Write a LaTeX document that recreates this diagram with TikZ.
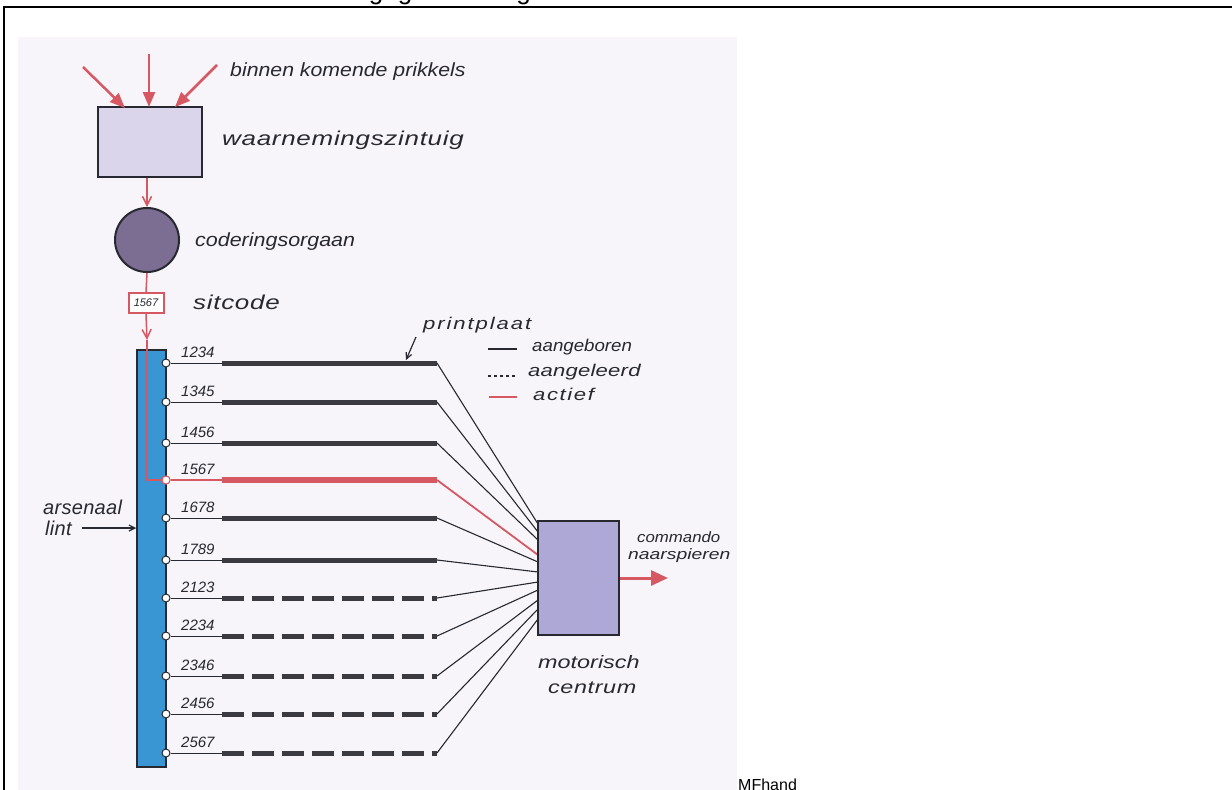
\documentclass[tikz,border=0pt]{standalone}
\usepackage{fontspec}
\setmainfont{Liberation Sans}
\newfontfamily\handfont{Liberation Sans}
\usetikzlibrary{arrows.meta}
\definecolor{scan}{RGB}{247,245,249}
\definecolor{pen}{RGB}{40,40,48}
\definecolor{redink}{RGB}{214,88,98}
\definecolor{boxA}{RGB}{218,213,234}
\definecolor{circ}{RGB}{124,110,146}
\definecolor{boxB}{RGB}{174,168,214}
\definecolor{lintc}{RGB}{58,150,210}
\definecolor{barc}{RGB}{58,58,64}
\makeatletter
\newcommand\lspace[2]{\def\lsp@gap{\hspace{#1}}\lsp@go#2\relax}
\def\lsp@go#1{\ifx#1\relax\else#1\lsp@gap\expandafter\lsp@go\fi}
\makeatother
% size, stretch, gap, text
\newcommand{\hwr}[4]{{\handfont\itshape\fontsize{#1}{#1}\selectfont\addfontfeature{FakeStretch=#2}\lspace{#3pt}{#4}}}
\tikzset{
  lbl/.style={anchor=west, inner sep=0pt, text=pen},
  inarrow/.style={redink, line width=2.5pt, -{Triangle[length=15pt,width=12pt]}},
  thinred/.style={redink, line width=1.5pt},
  redbarb/.style={thinred, -{Straight Barb[length=9pt,width=9pt]}},
  bar/.style={barc, line width=5pt},
  dbar/.style={barc, line width=5pt, dash pattern=on 22pt off 8pt},
  feed/.style={pen, line width=1.1pt},
  stub/.style={pen, line width=1pt},
  pin/.style={circle, draw=pen, fill=white, line width=1pt, minimum size=8pt, inner sep=0pt},
  rowlbl/.style={anchor=west, inner sep=0pt, text=pen},
  ink/.style={draw=pen, line width=2.5pt, inner sep=0pt}
}
\begin{document}
\begin{tikzpicture}[x=1pt,y=-1pt]
\useasboundingbox (0,0) rectangle (1232,790);
\fill[white] (0,0) rectangle (1232,790);
\fill[scan] (18,37) rectangle (737,790);
% clipped title and frame
\node[anchor=base west, inner sep=0pt, font=\fontsize{26}{26}\selectfont] (title) at (35,-1) {Het model schematisch weergegeven in figuur};
\draw[black, line width=2pt] (4,800) -- (4,7) -- (1240,7);
\node[anchor=base west, inner sep=0pt, font=\fontsize{16}{16}\selectfont] (mf) at (738,790) {MFhand};

% sensor
\node[ink, fill=boxA, minimum width=104pt, minimum height=70pt] (sensor) at (150,142) {};
\coordinate (i1) at (83,67);
\coordinate (i2) at (149,54);
\coordinate (i3) at (217,65);
\coordinate (t1) at (125,108);
\coordinate (t2) at (149,107);
\coordinate (t3) at (175,107);
\draw[inarrow] (i1) -- (t1);
\draw[inarrow] (i2) -- (t2);
\draw[inarrow] (i3) -- (t3);
\node[lbl] (prik) at (230,72) {\hwr{19}{1.12}{0}{binnen~komende~prikkels}};
\node[lbl] (waar) at (222,140) {\hwr{20}{1.3}{0.7}{waarnemingszintuig}};

% coder
\node[circle, draw=pen, line width=2pt, fill=circ, minimum size=64pt, inner sep=0pt] (coder) at (147,240) {};
\draw[redbarb] (sensor.south -| coder.north) -- (coder.north);
\node[lbl] (cod) at (195,242) {\hwr{19}{1.13}{0}{coderingsorgaan}};

% sitcode
\node[draw=redink, line width=2pt, fill=white, minimum width=35pt, minimum height=20pt, inner sep=0pt, text=pen] (sit) at (146,303) {\hwr{11}{1}{0}{1567}};
\draw[thinred] (coder.south) -- (sit.north);
\node[lbl] (sitl) at (193,302) {\hwr{20}{1.3}{0.7}{sitcode}};

% arsenaal lint
\node[draw=pen, line width=1.5pt, fill=lintc, minimum width=29pt, minimum height=417pt, inner sep=0pt] (lint) at (151.5,558.5) {};
\node[lbl] (ars) at (43,507) {\hwr{20}{1}{0.3}{arsenaal}};
\node[lbl] (lintl) at (45,528) {\hwr{20}{1}{0.3}{lint}};
\coordinate (la) at (82,528);
\draw[pen, line width=1.2pt, -{Straight Barb[length=6pt,width=6pt]}] (la) -- (lint.west |- la);

% rows: solid
\foreach \i/\y/\t/\ty in {1/363/1234/524, 2/402/1345/532, 3/443/1456/540, 5/518/1678/562, 6/560/1789/572}{
  \node[pin] (p\i) at (166,\y) {};
  \coordinate (s\i) at (222,\y);
  \coordinate (e\i) at (437,\y);
  \coordinate (m\i) at (538,\ty);
  \draw[stub] (p\i) -- (s\i);
  \draw[bar] (s\i) -- (e\i);
  \draw[feed] (e\i) -- (m\i);
  \node[rowlbl] (l\i) at (181,\y-11) {\hwr{15}{1}{0}{\t}};
}
% rows: dashed
\foreach \i/\y/\t/\ty in {7/598/2123/582, 8/636/2234/590, 9/676/2346/600, 10/714/2456/609, 11/753/2567/619}{
  \node[pin] (p\i) at (166,\y) {};
  \coordinate (s\i) at (222,\y);
  \coordinate (e\i) at (437,\y);
  \coordinate (m\i) at (538,\ty);
  \draw[stub] (p\i) -- (s\i);
  \draw[dbar] (s\i) -- (e\i);
  \draw[feed] (e\i) -- (m\i);
  \node[rowlbl] (l\i) at (181,\y-11) {\hwr{15}{1}{0}{\t}};
}
% active row
\node[pin, draw=redink] (p4) at (166,480) {};
\coordinate (s4) at (222,480);
\coordinate (e4) at (437,480);
\coordinate (m4) at (538,555);
\draw[thinred] (p4) -- (s4);
\draw[redink, line width=6.5pt] (s4) -- (e4);
\draw[redink, line width=1.8pt] (e4) -- (m4);
\node[rowlbl] (l4) at (181,469) {\hwr{15}{1}{0}{1567}};

% active path through the lint
\coordinate (ah) at (147,340);
\coordinate (bend) at (147,480);
\draw[redbarb] (sit.south) -- (ah);
\draw[thinred] (ah) -- (bend) -- (p4.west);
\node[pin, draw=redink] at (p4) {};

% printplaat
\node[lbl] (pp) at (423,325) {\hwr{17}{1.3}{1.9}{printplaat}};
\coordinate (ppa) at (416,337);
\coordinate (ppt) at (406,360);
\draw[pen, line width=1.2pt, -{Straight Barb[length=6pt,width=6pt]}] (ppa) -- (ppt);

% legend
\coordinate (g1a) at (488,349); \coordinate (g1b) at (517,349);
\coordinate (g2a) at (488,376); \coordinate (g2b) at (517,376);
\coordinate (g3a) at (489,397); \coordinate (g3b) at (517,397);
\draw[pen, line width=1.5pt] (g1a) -- (g1b);
\draw[pen, line width=1.5pt, dash pattern=on 3pt off 3pt] (g2a) -- (g2b);
\draw[redink, line width=2pt] (g3a) -- (g3b);
\node[lbl] (lg1) at (532,347) {\hwr{17}{1.1}{0}{aangeboren}};
\node[lbl] (lg2) at (528,372) {\hwr{17}{1.3}{0.2}{aangeleerd}};
\node[lbl] (lg3) at (533,394) {\hwr{17}{1.3}{1.6}{actief}};

% motor centre
\node[ink, fill=boxB, minimum width=81pt, minimum height=114pt] (motor) at (578.5,578) {};
\coordinate (out) at (668,578);
\draw[redink, line width=3pt, -{Triangle[length=17pt,width=15pt]}] (motor.east) -- (out);
\node[lbl] (cmd1) at (637,537) {\hwr{15}{1.12}{0}{commando}};
\node[lbl] (cmd2) at (628,556) {\hwr{15}{1.29}{0}{naarspieren}};
\node[lbl] (mot1) at (538,662) {\hwr{18}{1.3}{0}{motorisch}};
\node[lbl] (mot2) at (548,688) {\hwr{18}{1.3}{0.6}{centrum}};
\end{tikzpicture}
\end{document}
